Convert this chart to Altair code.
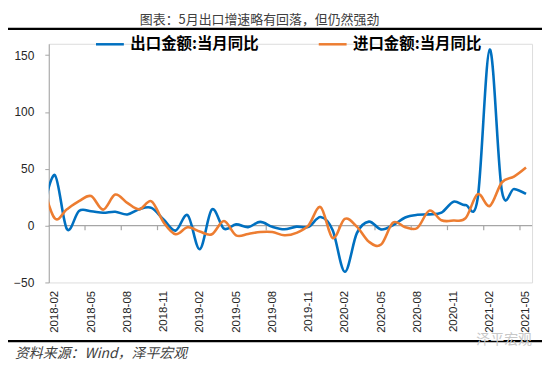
import altair as alt
import pandas as pd

# ---- data ----
months = [
    "2018-01", "2018-02", "2018-03", "2018-04", "2018-05", "2018-06", "2018-07", "2018-08",
    "2018-09", "2018-10", "2018-11", "2018-12",
    "2019-01", "2019-02", "2019-03", "2019-04", "2019-05", "2019-06", "2019-07", "2019-08",
    "2019-09", "2019-10", "2019-11", "2019-12",
    "2020-01", "2020-02", "2020-03", "2020-04", "2020-05", "2020-06", "2020-07", "2020-08",
    "2020-09", "2020-10", "2020-11", "2020-12",
    "2021-01", "2021-02", "2021-03", "2021-04", "2021-05",
]
exports = [
    11.1, 44.5, -3.0, 12.9, 12.6, 11.3, 12.2, 9.8, 14.5, 15.6, 5.4, -4.4,
    9.1, -20.7, 14.2, -2.7, 1.1, -1.3, 3.3, -1.0, -3.2, -0.9, -1.1, 7.6,
    -4.0, -40.6, -6.6, 3.5, -3.3, 0.5, 7.2, 9.5, 9.9, 11.4, 21.1, 18.1,
    24.0, 154.9, 30.6, 32.3, 27.9,
]
imports = [
    36.9, 6.3, 14.4, 21.5, 26.0, 14.1, 27.3, 20.0, 14.3, 21.4, 3.0, -7.6,
    -1.5, -5.2, -7.6, 4.0, -8.5, -7.3, -5.6, -5.6, -8.5, -6.4, 0.3, 16.3,
    -11.0, 6.0, -0.9, -14.2, -16.7, 2.7, -1.4, -2.1, 13.2, 4.7, 4.5, 6.5,
    27.7, 17.3, 38.1, 43.1, 51.1,
]
series_names = ["出口金额:当月同比", "进口金额:当月同比"]
colors = ["#0070c0", "#ed7d31"]
y_ticks = [-50, 0, 50, 100, 150]
first_shown = "2018-02"
last_shown = "2021-05"
label_step = 3

title_text = "图表：5月出口增速略有回落，但仍然强劲"
source_text = "资料来源：Wind，泽平宏观"
watermark_text = "泽平宏观"

# ---- build tables ----
base = months.index(first_shown)
n_shown = months.index(last_shown) - base + 1
rows = []
for name, vals in zip(series_names, [exports, imports]):
    for i, (m, v) in enumerate(zip(months, vals)):
        rows.append({"idx": i - base, "month": m, "series": name, "val": v})
df = pd.DataFrame(rows)

label_idx = list(range(0, n_shown, label_step))
tick_df = pd.DataFrame({"idx": [i + label_step - 0.5 for i in label_idx[:-1]],
                        "val": [0] * (len(label_idx) - 1),
                        "val2": [-4] * (len(label_idx) - 1)})

months_js = "[" + ",".join("'%s'" % m for m in months) + "]"
label_expr = "%s[datum.value + %d]" % (months_js, base)

W, H = 486, 240
xscale = alt.Scale(domain=[-0.5, n_shown - 0.5], nice=False, zero=False)
yscale = alt.Scale(domain=[-50, 160], nice=False, zero=False)

x_axis = alt.Axis(
    values=label_idx, labelExpr=label_expr, title=None, domain=False, ticks=False,
    grid=False, labelAngle=270, labelAlign="right", labelBaseline="middle",
    labelPadding=8, labelFontSize=11.5, labelFont="Liberation Sans",
    labelColor="#262626", labelOverlap=False, labelFlush=False, labelBound=False)
y_axis = alt.Axis(
    values=y_ticks, title=None, grid=False, domainColor="#a6a6a6", tickColor="#a6a6a6",
    tickSize=4, labelPadding=11, labelFontSize=12, labelFont="Liberation Sans",
    labelColor="#262626")

lines = alt.Chart(df).mark_line(interpolate="cardinal", strokeWidth=2.6, clip=True).encode(
    x=alt.X("idx:Q", scale=xscale, axis=x_axis),
    y=alt.Y("val:Q", scale=yscale, axis=y_axis),
    color=alt.Color("series:N", scale=alt.Scale(domain=series_names, range=colors),
                    legend=alt.Legend(orient="none", legendX=46, legendY=-15,
                                      direction="horizontal", title=None,
                                      symbolType="stroke", symbolSize=784,
                                      symbolStrokeWidth=2.5, labelFontSize=15.5,
                                      labelFont="Noto Sans CJK SC", labelFontWeight="bold",
                                      labelColor="black", columnPadding=54,
                                      labelOffset=5, padding=0)),
    detail="series:N",
)

zero_rule = alt.Chart(pd.DataFrame({"val": [0]})).mark_rule(
    color="#a6a6a6", strokeWidth=1.5).encode(
    y=alt.Y("val:Q", scale=yscale, axis=y_axis))

ticks = alt.Chart(tick_df).mark_rule(color="#a6a6a6", strokeWidth=1.2).encode(
    x=alt.X("idx:Q", scale=xscale, axis=x_axis),
    y=alt.Y("val:Q", scale=yscale, axis=y_axis), y2="val2:Q")

ann = pd.DataFrame({"t": [title_text]})
title = alt.Chart(ann).mark_text(font="Noto Sans CJK SC", fontSize=13, color="#404040",
                                 align="center", baseline="alphabetic").encode(
    x=alt.value(212), y=alt.value(-19.8), text=alt.value(title_text))
top_line = alt.Chart(ann).mark_rule(color="black", strokeWidth=2.5).encode(
    x=alt.value(-41), x2=alt.value(496), y=alt.value(-15))
bottom_line = alt.Chart(ann).mark_rule(color="black", strokeWidth=2.5).encode(
    x=alt.value(-41), x2=alt.value(496), y=alt.value(59 + H))
source = alt.Chart(ann).mark_text(font="Noto Sans CJK SC", fontSize=14, fontStyle="italic",
                                  color="#404040", align="left", baseline="middle").encode(
    x=alt.value(-34), y=alt.value(72 + H), text=alt.value(source_text))
watermark = alt.Chart(ann).mark_text(font="Noto Sans CJK SC", fontSize=14, color="#c8c8c8",
                                     align="left", baseline="middle").encode(
    x=alt.value(430), y=alt.value(58 + H), text=alt.value(watermark_text))

chart = alt.layer(zero_rule, ticks, lines, title, top_line, bottom_line, source, watermark).properties(
    width=W, height=H,
    autosize=alt.AutoSizeParams(type="none"),
    padding={"left": 41, "top": 35, "right": 10, "bottom": 79},
).configure_view(stroke=None).configure(background="white")

chart.save("out.html", embed_options={"renderer": "svg", "actions": False})
